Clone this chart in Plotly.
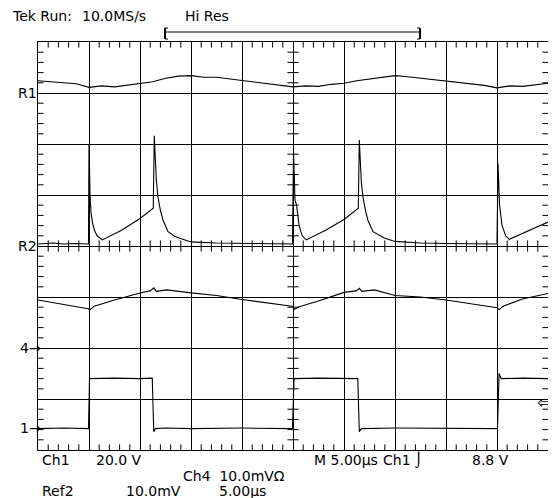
import plotly.graph_objects as go

# ---- data (time in microseconds, amplitude in screen divisions) ----
r1_t = [0, 1.25, 2.5, 3.75, 5, 6.25, 7.5, 8.75, 10, 11.25, 12.5, 13.75, 15, 16.25, 17.5, 18.75,
        20, 21.25, 22.5, 23.75, 25, 26.25, 27.5, 28.75, 30, 31.25, 32.5, 33.75, 35, 36.25,
        37.5, 38.75, 40, 41.25, 42.5, 43.75, 45, 46.25, 47.5, 48.75, 50]
r1_v = [7.24, 7.22, 7.21, 7.18, 7.11, 7.14, 7.12, 7.15, 7.19, 7.22, 7.29, 7.33, 7.34, 7.31,
        7.31, 7.28, 7.24, 7.22, 7.18, 7.15, 7.12, 7.14, 7.13, 7.17, 7.19, 7.24, 7.27, 7.31,
        7.34, 7.32, 7.29, 7.27, 7.24, 7.21, 7.18, 7.15, 7.10, 7.14, 7.13, 7.16, 7.19]

r2_t = [0, 1.5, 2.5, 3.5, 4.95, 5.0, 5.1, 5.2, 5.35, 5.55, 5.8, 6.3, 8.2, 10, 11.3, 11.4, 11.6,
        11.75, 12.0, 12.25, 12.75, 13.4, 13.9, 15, 17.5, 20, 22.5, 24.95, 25.05, 25.2, 25.35,
        25.6, 25.9, 26.3, 28.2, 30, 31.4, 31.5, 31.7, 31.85, 32.1, 32.35, 32.85, 34, 35, 37.5,
        40, 42.5, 45.0, 45.1, 45.25, 45.5, 45.85, 46.2, 47.5, 48.75, 50]
r2_v = [4.04, 4.06, 4.04, 4.05, 4.04, 6.00, 5.00, 4.65, 4.45, 4.30, 4.20, 4.12, 4.31, 4.54,
        4.74, 6.16, 5.30, 4.97, 4.70, 4.51, 4.28, 4.19, 4.15, 4.08, 4.06, 4.05, 4.04, 4.04,
        5.85, 4.90, 4.80, 4.40, 4.20, 4.12, 4.31, 4.52, 4.74, 6.08, 5.25, 4.97, 4.70, 4.50,
        4.28, 4.15, 4.09, 4.06, 4.05, 4.04, 4.04, 5.62, 4.80, 4.40, 4.20, 4.13, 4.25, 4.36,
        4.47]

ch4_t = [0, 2.5, 4.9, 5.1, 5.5, 7.5, 10, 11.0, 11.35, 11.6, 12.6, 15, 17.5, 20, 22.5, 24.9,
         25.15, 25.6, 27.5, 30, 31.2, 31.5, 31.75, 33, 35, 37.5, 40, 42.5, 45.0, 45.2, 45.6,
         47.5, 50]
ch4_v = [2.94, 2.86, 2.77, 2.75, 2.82, 2.94, 3.08, 3.12, 3.18, 3.11, 3.14, 3.08, 3.03, 2.95,
         2.89, 2.82, 2.76, 2.81, 2.92, 3.09, 3.12, 3.17, 3.11, 3.14, 3.03, 3.00, 2.94, 2.87,
         2.79, 2.75, 2.82, 2.96, 3.07]

ch1_t = [0, 2.5, 4.95, 5.05, 7.5, 10, 11.2, 11.35, 11.5, 12.5, 15, 20, 24.95, 25.1, 27.5, 30,
         31.35, 31.5, 31.7, 35, 40, 45.05, 45.2, 45.4, 47.5, 50]
ch1_v = [0.42, 0.43, 0.42, 1.40, 1.41, 1.40, 1.41, 0.36, 0.42, 0.43, 0.42, 0.43, 0.42, 1.40,
         1.41, 1.40, 1.40, 0.36, 0.42, 0.43, 0.42, 0.42, 1.50, 1.40, 1.41, 1.40]

# ---- screen geometry (px); page renders figure with an 8px body offset ----
OFF = 8
W, H = 556, 498
L, R, T, B = 30, 16, 34, 56
PW, PH = W - L - R, H - T - B


def px(x):
    return (x - OFF - L) / PW


def py(y):
    return (H - B - (y - OFF)) / PH


fig = go.Figure()
for t, v in [(r1_t, r1_v), (r2_t, r2_v), (ch4_t, ch4_v), (ch1_t, ch1_v)]:
    fig.add_trace(go.Scatter(x=t, y=v, mode="lines", line=dict(color="black", width=1.1),
                             hoverinfo="skip", showlegend=False))

# graticule minor ticks: on the centre lines (crossing) and on the border (inside)
minor_x = [i * 1.0 for i in range(1, 50) if i % 5]
minor_y = [round(i * 0.2, 2) for i in range(1, 40) if i % 5]
tick_marker = dict(color="black", size=8, line=dict(color="black", width=1))
for yv in (0, 4, 8):
    fig.add_trace(go.Scatter(x=minor_x, y=[yv] * len(minor_x), mode="markers",
                             marker=dict(symbol="line-ns-open", **tick_marker),
                             hoverinfo="skip", showlegend=False))
for xv in (0, 25, 50):
    fig.add_trace(go.Scatter(x=[xv] * len(minor_y), y=minor_y, mode="markers",
                             marker=dict(symbol="line-ew-open", **tick_marker),
                             hoverinfo="skip", showlegend=False))

axis_common = dict(showgrid=True, gridcolor="black", gridwidth=1, zeroline=False,
                   showticklabels=False, showline=True, linecolor="black", linewidth=1,
                   mirror=True, ticks="")
fig.update_xaxes(range=[0, 50], dtick=5, tick0=0, **axis_common)
fig.update_yaxes(range=[0, 8], dtick=1, tick0=0, **axis_common)

FONT = dict(family="DejaVu Sans", size=14, color="black")
for s, x in [("Tek Run:", 12), ("10.0MS/s", 82), ("Hi Res", 185)]:
    fig.add_annotation(text=s, x=px(x), y=1.0 + T / PH, xref="paper", yref="paper",
                       xanchor="left", yanchor="top", showarrow=False, font=FONT,
                       borderpad=0, borderwidth=0)

texts = [
    ("R1", 16, 93), ("R2", 16, 246), ("4\u2192", 18, 348), ("1\u2192", 18, 428),
    ("Ch1", 40, 460), ("20.0 V", 94, 460), ("M 5.00\u00b5s", 312, 460), ("Ch1 \u2321", 381, 460),
    ("8.8 V", 470, 460),
    ("Ch4  10.0mV\u03a9", 181, 476),
    ("Ref2", 40, 491), ("10.0mV", 124, 491), ("5.00\u00b5s", 217, 491),
]
for s, x, y in texts:
    fig.add_annotation(text=s, x=px(x), y=py(y), xref="paper", yref="paper",
                       xanchor="left", yanchor="middle", showarrow=False, font=FONT)

fig.add_annotation(text="\u21e6", x=px(535), y=py(402), xref="paper", yref="paper",
                   xanchor="left", yanchor="middle", showarrow=False,
                   font=dict(family="DejaVu Sans", size=17, color="black"))

line1 = dict(color="black", width=1)
fig.add_shape(type="line", xref="paper", yref="paper", x0=px(165), x1=px(420), y0=py(32), y1=py(32),
              line=line1)
for bx, d in [(165, 1), (420, -1)]:
    fig.add_shape(type="line", xref="paper", yref="paper", x0=px(bx), x1=px(bx), y0=py(28), y1=py(39),
                  line=dict(color="black", width=2))
    for yy in (28, 39):
        fig.add_shape(type="line", xref="paper", yref="paper", x0=px(bx), x1=px(bx + 3 * d),
                      y0=py(yy), y1=py(yy), line=line1)

fig.update_layout(width=W, height=H, margin=dict(l=L, r=R, t=T, b=B),
                  paper_bgcolor="white", plot_bgcolor="white")
fig.write_html("out.html")
